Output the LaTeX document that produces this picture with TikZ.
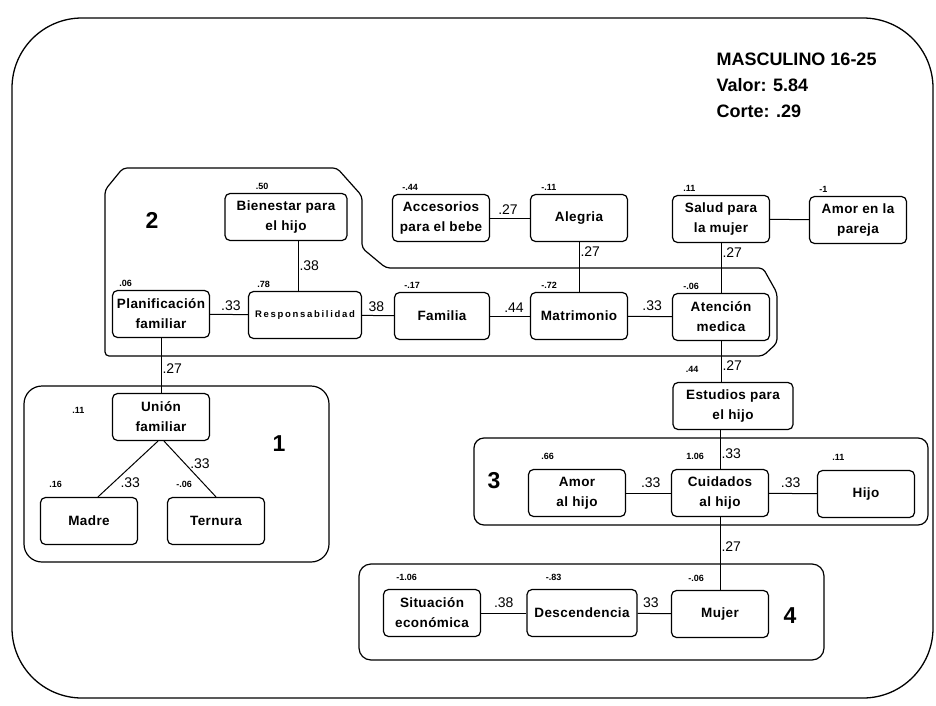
\documentclass[tikz,border=0pt]{standalone}
\usepackage{fontspec}
\setmainfont{Liberation Sans}
\usetikzlibrary{calc}

\begin{document}
\begin{tikzpicture}[x=1pt, y=-1pt, line width=1pt,
    box/.style={draw, line width=1.2pt, rounded corners=5pt, minimum width=97pt, minimum height=47pt,
        align=center, inner sep=1pt, font=\fontsize{13.5}{20}\selectfont\bfseries\addfontfeatures{LetterSpace=3}},
    val/.style={anchor=south west, inner sep=1pt, yshift=2pt, font=\fontsize{9}{10}\selectfont\bfseries},
    lbl/.style={inner sep=1pt, font=\fontsize{14}{15}\selectfont},
    grp/.style={draw, line width=1.2pt},
    num/.style={font=\fontsize{23}{24}\selectfont\bfseries}]
    \useasboundingbox (0,0) rectangle (936,706);

    % Outer frame
    \draw[line width=1.3pt, rounded corners=70pt] (12,18) rectangle (933,698);

    % Title
    \node[anchor=north west, align=left, inner sep=0pt, font=\fontsize{18}{26}\selectfont\bfseries] (Title) at (716,52)
        {MASCULINO 16-25\\Valor: 5.84\\Corte: .29};

    % Groups
    \draw[grp, rounded corners=4pt] (123,168) -- (337,168) -- (362,196) -- (362,248) -- (386,268) -- (763,268)
        -- (777,293) -- (777,343) -- (763,356) -- (105,356) -- (105,190) -- cycle;
    \draw[grp, rounded corners=18pt] (24,386) rectangle (329,562);
    \draw[grp, rounded corners=10pt] (474,438) rectangle (928,525);
    \draw[grp, rounded corners=12pt] (359,564) rectangle (824,660);
    \node[num] (G2) at (152,220) {2};
    \node[num] (G1) at (279,444) {1};
    \node[num] (G3) at (494,481) {3};
    \node[num] (G4) at (790,616) {4};

    % Upper row
    \node[box, minimum width=122pt, label={[val, xshift=30pt]north west:.50}] (Bien) at (286,217) {Bienestar para\\el hijo};
    \node[box, label={[val, xshift=9pt]north west:-.44}] (Acce) at (441,218) {Accesorios\\para el bebe};
    \node[box, label={[val, xshift=10pt]north west:-.11}] (Aleg) at (579,218) {Alegria};
    \node[box, label={[val, xshift=10pt]north west:.11}] (Salu) at (721,219) {Salud para\\la mujer};
    \node[box, label={[val, xshift=9pt]north west:-1}] (Amop) at (858,220) {Amor en la\\pareja};

    % Middle row
    \node[box, label={[val, xshift=6pt]north west:.06}] (Plan) at (161,314) {Planificación\\familiar};
    \node[box, minimum width=113pt, label={[val, xshift=8pt]north west:.78},
        font=\fontsize{9.5}{12}\selectfont\bfseries\addfontfeatures{LetterSpace=18}] (Resp) at (305,315) {Responsabilidad};
    \node[box, minimum width=95pt, label={[val, xshift=9pt]north west:-.17}] (Fami) at (442,316) {Familia};
    \node[box, label={[val, xshift=10pt]north west:-.72}] (Matr) at (579,316) {Matrimonio};
    \node[box, label={[val, xshift=10pt]north west:-.06}] (Aten) at (721,317) {Atención\\medica};
    \node[box, minimum width=120pt, label={[val, xshift=12pt, yshift=6pt]north west:.44}] (Estu) at (733,406) {Estudios para\\el hijo};

    % Group 1
    \node[box, label={[val, anchor=east, xshift=-26pt, yshift=5pt]west:.11}] (Unio) at (161,417) {Unión\\familiar};
    \node[box, label={[val, xshift=8pt, yshift=6pt]north west:.16}] (Madr) at (89,521) {Madre};
    \node[box, label={[val, xshift=8pt, yshift=6pt]north west:-.06}] (Tern) at (216,521) {Ternura};

    % Group 3
    \node[box, label={[val, xshift=12pt, yshift=6pt]north west:.66}] (Amoh) at (577,493) {Amor\\al hijo};
    \node[box, label={[val, xshift=14pt, yshift=6pt]north west:1.06}] (Cuid) at (720,493) {Cuidados\\al hijo};
    \node[box, label={[val, xshift=14pt, yshift=6pt]north west:.11}] (Hijo) at (866,494) {Hijo};

    % Group 4
    \node[box, label={[val, xshift=12pt, yshift=5pt]north west:-1.06}] (Situ) at (432,613) {Situación\\económica};
    \node[box, minimum width=110pt, label={[val, xshift=18pt, yshift=5pt]north west:-.83}] (Desc) at (582,613) {Descendencia};
    \node[box, label={[val, xshift=16pt, yshift=5pt]north west:-.06}] (Muje) at (720,614) {Mujer};

    % Connections
    \draw ([xshift=12pt]Bien.south) -- node[lbl, right, pos=0.5] {.38} ([xshift=12pt]Bien.south |- Resp.north);
    \draw (Acce) -- node[lbl, above, pos=0.45, yshift=2pt] {.27} (Aleg);
    \draw (Aleg) -- node[lbl, right, pos=0.2] {.27} (Matr);
    \draw (Salu) -- (Amop);
    \draw (Salu) -- node[lbl, right, pos=0.2] {.27} (Aten);
    \draw (Plan) -- node[lbl, above, pos=0.55, yshift=2pt] {.33} (Resp);
    \draw (Resp) -- node[lbl, above, pos=0.45, yshift=2pt] {38} (Fami);
    \draw (Fami) -- node[lbl, above, pos=0.6, yshift=2pt] {.44} (Matr);
    \draw (Matr) -- node[lbl, above, pos=0.55, yshift=4pt] {.33} (Aten);
    \draw (Aten.south) -- node[lbl, right, pos=0.6] {.27} (Aten.south |- Estu.north);
    \draw (Plan) -- node[lbl, right, pos=0.55] {.27} (Unio);
    \draw ([xshift=-3pt]Unio.south) -- node[lbl, right=6pt, pos=0.75] {.33} ([xshift=9pt]Madr.north);
    \draw ([xshift=3pt]Unio.south) -- node[lbl, right=4pt, pos=0.4] {.33} (Tern.north);
    \draw (Estu.south -| Cuid.north) -- node[lbl, right, pos=0.6] {.33} (Cuid.north);
    \draw (Amoh) -- node[lbl, above, pos=0.55, yshift=4pt] {.33} (Cuid);
    \draw (Cuid) -- node[lbl, above, pos=0.45, yshift=4pt] {.33} (Hijo);
    \draw (Cuid) -- node[lbl, right, pos=0.4] {.27} (Muje);
    \draw (Situ) -- node[lbl, above, pos=0.5, yshift=4pt] {.38} (Desc);
    \draw (Desc) -- node[lbl, above, pos=0.4, yshift=4pt] {33} (Muje);
\end{tikzpicture}
\end{document}
